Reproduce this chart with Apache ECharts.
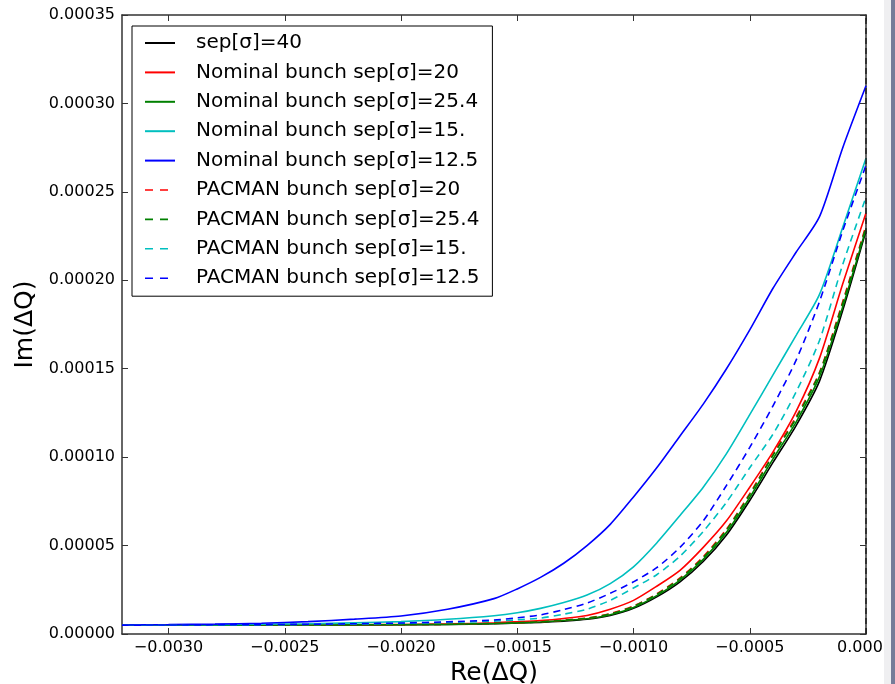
<!DOCTYPE html>
<html>
<head>
<meta charset="utf-8">
<script src="https://cdn.jsdelivr.net/npm/echarts@6/dist/echarts.min.js"></script>
<style>
html,body{margin:0;padding:0;background:#fff;}
#c{width:895px;height:684px;}
</style>
</head>
<body>
<div id="c"></div>
<script>
// Re(ΔQ) sample positions
const reQ = [-0.0032,-0.0030,-0.0028,-0.0026,-0.0024,-0.0022,-0.0020,-0.0018,-0.0016,-0.0015,-0.0014,-0.0013,-0.0012,-0.0011,-0.0010,-0.0009,-0.0008,-0.0007,-0.0006,-0.0005,-0.0004,-0.0003,-0.0002,-0.0001,0];

// Im(ΔQ) values per series
const sep40  = [5.0e-6,5.0e-6,5.0e-6,5.05e-6,5.1e-6,5.15e-6,5.2e-6,5.4e-6,5.8e-6,6.2e-6,6.6e-6,7.3e-6,8.3e-6,1.05e-5,1.45e-5,2.1e-5,2.95e-5,4.1e-5,5.6e-5,7.55e-5,9.7e-5,1.18e-4,1.43e-4,1.83e-4,2.28e-4];
const nom20  = [5.0e-6,5.0e-6,5.05e-6,5.1e-6,5.15e-6,5.25e-6,5.4e-6,5.7e-6,6.3e-6,6.9e-6,7.6e-6,8.8e-6,1.05e-5,1.4e-5,1.9e-5,2.7e-5,3.6e-5,4.9e-5,6.4e-5,8.3e-5,1.03e-4,1.26e-4,1.56e-4,1.98e-4,2.38e-4];
const nom254 = [5.0e-6,5.0e-6,5.0e-6,5.05e-6,5.1e-6,5.15e-6,5.25e-6,5.45e-6,5.9e-6,6.3e-6,6.8e-6,7.6e-6,8.6e-6,1.09e-5,1.5e-5,2.17e-5,3.05e-5,4.22e-5,5.75e-5,7.72e-5,9.9e-5,1.2e-4,1.455e-4,1.85e-4,2.29e-4];
const nom15  = [5.1e-6,5.2e-6,5.3e-6,5.5e-6,5.8e-6,6.3e-6,7.0e-6,8.3e-6,1.03e-5,1.2e-5,1.45e-5,1.78e-5,2.2e-5,2.85e-5,3.8e-5,5.15e-5,6.7e-5,8.3e-5,1.02e-4,1.24e-4,1.465e-4,1.69e-4,1.92e-4,2.3e-4,2.69e-4];
const nom125 = [5.1e-6,5.3e-6,5.6e-6,6.1e-6,7.0e-6,8.4e-6,1.02e-5,1.4e-5,2.0e-5,2.55e-5,3.2e-5,4.0e-5,5.0e-5,6.2e-5,7.75e-5,9.4e-5,1.12e-4,1.3e-4,1.5e-4,1.72e-4,1.955e-4,2.16e-4,2.36e-4,2.75e-4,3.1e-4];
const pac20  = [5.0e-6,5.0e-6,5.0e-6,5.05e-6,5.1e-6,5.2e-6,5.3e-6,5.5e-6,6.0e-6,6.4e-6,6.9e-6,7.8e-6,9.0e-6,1.15e-5,1.58e-5,2.27e-5,3.17e-5,4.37e-5,5.93e-5,7.94e-5,1.016e-4,1.23e-4,1.48e-4,1.88e-4,2.31e-4];
const pac254 = [5.0e-6,5.0e-6,5.0e-6,5.05e-6,5.1e-6,5.2e-6,5.3e-6,5.5e-6,5.95e-6,6.35e-6,6.85e-6,7.75e-6,8.9e-6,1.13e-5,1.56e-5,2.24e-5,3.13e-5,4.32e-5,5.88e-5,7.88e-5,1.01e-4,1.22e-4,1.475e-4,1.87e-4,2.3e-4];
const pac15  = [5.0e-6,5.0e-6,5.1e-6,5.2e-6,5.4e-6,5.6e-6,6.0e-6,6.5e-6,7.3e-6,8.0e-6,9.0e-6,1.12e-5,1.4e-5,1.9e-5,2.6e-5,3.35e-5,4.4e-5,5.8e-5,7.45e-5,9.4e-5,1.13e-4,1.37e-4,1.66e-4,2.09e-4,2.47e-4];
const pac125 = [5.0e-6,5.1e-6,5.2e-6,5.3e-6,5.5e-6,5.8e-6,6.2e-6,6.9e-6,7.9e-6,9.2e-6,1.08e-5,1.38e-5,1.75e-5,2.3e-5,2.95e-5,3.75e-5,4.9e-5,6.4e-5,8.4e-5,1.055e-4,1.29e-4,1.55e-4,1.88e-4,2.28e-4,2.65e-4];

const seriesNames = ['sep[σ]=40','Nominal bunch sep[σ]=20','Nominal bunch sep[σ]=25.4','Nominal bunch sep[σ]=15.','Nominal bunch sep[σ]=12.5','PACMAN bunch sep[σ]=20','PACMAN bunch sep[σ]=25.4','PACMAN bunch sep[σ]=15.','PACMAN bunch sep[σ]=12.5'];
const seriesValues = [sep40, nom20, nom254, nom15, nom125, pac20, pac254, pac15, pac125];
const seriesColors = ['#000000','#ff0000','#008000','#00bfbf','#0000ff','#ff0000','#008000','#00bfbf','#0000ff'];
const seriesDashed = [false,false,false,false,false,true,true,true,true];

const xTicks = [-0.0030,-0.0025,-0.0020,-0.0015,-0.0010,-0.0005,0];
const yTicks = [0,0.00005,0.00010,0.00015,0.00020,0.00025,0.00030,0.00035];

const FONT = 'DejaVu Sans';

function xFmt(v){
  if (Math.abs(v) < 1e-12) return '{z|0.000}';
  return (v < 0 ? '\u2212' : '') + Math.abs(v).toFixed(4);
}

const series = seriesNames.map((name, i) => ({
  name: name,
  type: 'line',
  showSymbol: false,
  symbol: 'none',
  animation: false,
  clip: true,
  smooth: 0.25,
  lineStyle: { color: seriesColors[i], width: 1.6, type: seriesDashed[i] ? [7, 5] : 'solid' },
  itemStyle: { color: seriesColors[i] },
  data: reQ.map((x, j) => [x, seriesValues[i][j]])
}));

series[0].markLine = {
  silent: true,
  symbol: ['none','none'],
  label: { show: false },
  lineStyle: { color: '#222', width: 1.5, type: [6, 4] },
  data: [{ xAxis: 0 }],
  animation: false
};

const legendData = seriesNames.map((name, i) => seriesDashed[i]
  ? { name: name, lineStyle: { color: seriesColors[i], width: 1.6, type: [8, 7] } }
  : { name: name });

const chart = echarts.init(document.getElementById('c'), null, { renderer: 'canvas' });
chart.setOption({
  backgroundColor: '#ffffff',
  animation: false,
  textStyle: { fontFamily: FONT },
  grid: { left: 122, right: 29, top: 15, bottom: 50, containLabel: false, outerBoundsMode: 'none' },
  legend: {
    orient: 'vertical',
    left: 132,
    top: 26,
    backgroundColor: '#ffffff',
    borderColor: '#000',
    borderWidth: 1,
    padding: [7, 13, 8, 12],
    itemWidth: 30,
    itemHeight: 20,
    itemGap: 9.4,
    itemStyle: { opacity: 0, borderWidth: 0 },
    textStyle: { fontFamily: FONT, fontSize: 20, color: '#000', padding: [0, 0, 0, 16], lineHeight: 20 },
    data: legendData
  },
  xAxis: [{
    type: 'value',
    min: -0.0032,
    max: 0,
    position: 'bottom',
    name: 'Re(ΔQ)',
    nameLocation: 'middle',
    nameGap: 20,
    nameTextStyle: { fontFamily: FONT, fontSize: 25, color: '#000', verticalAlign: 'top' },
    axisLine: { show: true, onZero: false, lineStyle: { color: '#333', width: 1.5 } },
    axisTick: { show: true, inside: true, length: 6, customValues: xTicks, lineStyle: { color: '#333' } },
    axisLabel: { customValues: xTicks, formatter: xFmt, fontFamily: FONT, fontSize: 16, color: '#000', margin: 6,
      rich: { z: { fontFamily: FONT, fontSize: 16, color: '#000', padding: [0, 12, 0, 0] } } },
    splitLine: { show: false }
  }, {
    type: 'value',
    min: -0.0032,
    max: 0,
    position: 'top',
    axisLine: { show: true, onZero: false, lineStyle: { color: '#333', width: 1.5 } },
    axisTick: { show: true, inside: true, length: 6, customValues: xTicks, lineStyle: { color: '#333' } },
    axisLabel: { show: false },
    splitLine: { show: false }
  }],
  yAxis: [{
    type: 'value',
    min: 0,
    max: 0.00035,
    interval: 0.00005,
    position: 'left',
    name: 'Im(ΔQ)',
    nameLocation: 'middle',
    nameGap: 81,
    nameTextStyle: { fontFamily: FONT, fontSize: 25, color: '#000' },
    axisLine: { show: true, onZero: false, lineStyle: { color: '#333', width: 1.5 } },
    axisTick: { show: true, inside: true, length: 6, lineStyle: { color: '#333' } },
    axisLabel: { formatter: v => v.toFixed(5), fontFamily: FONT, fontSize: 16, color: '#000', margin: 7 },
    splitLine: { show: false }
  }, {
    type: 'value',
    min: 0,
    max: 0.00035,
    interval: 0.00005,
    position: 'right',
    axisLine: { show: true, onZero: false, lineStyle: { color: '#333', width: 1.5 } },
    axisTick: { show: true, inside: true, length: 6, lineStyle: { color: '#333' } },
    axisLabel: { show: false },
    splitLine: { show: false }
  }],
  graphic: [
    { type: 'rect', right: 0, top: 0, shape: { width: 11, height: 684 }, style: { fill: '#efeff1' }, silent: true, z: 100 },
    { type: 'rect', right: 0, top: 0, shape: { width: 4, height: 684 }, style: { fill: '#767c98' }, silent: true, z: 101 }
  ],
  series: series
});
</script>
</body>
</html>
